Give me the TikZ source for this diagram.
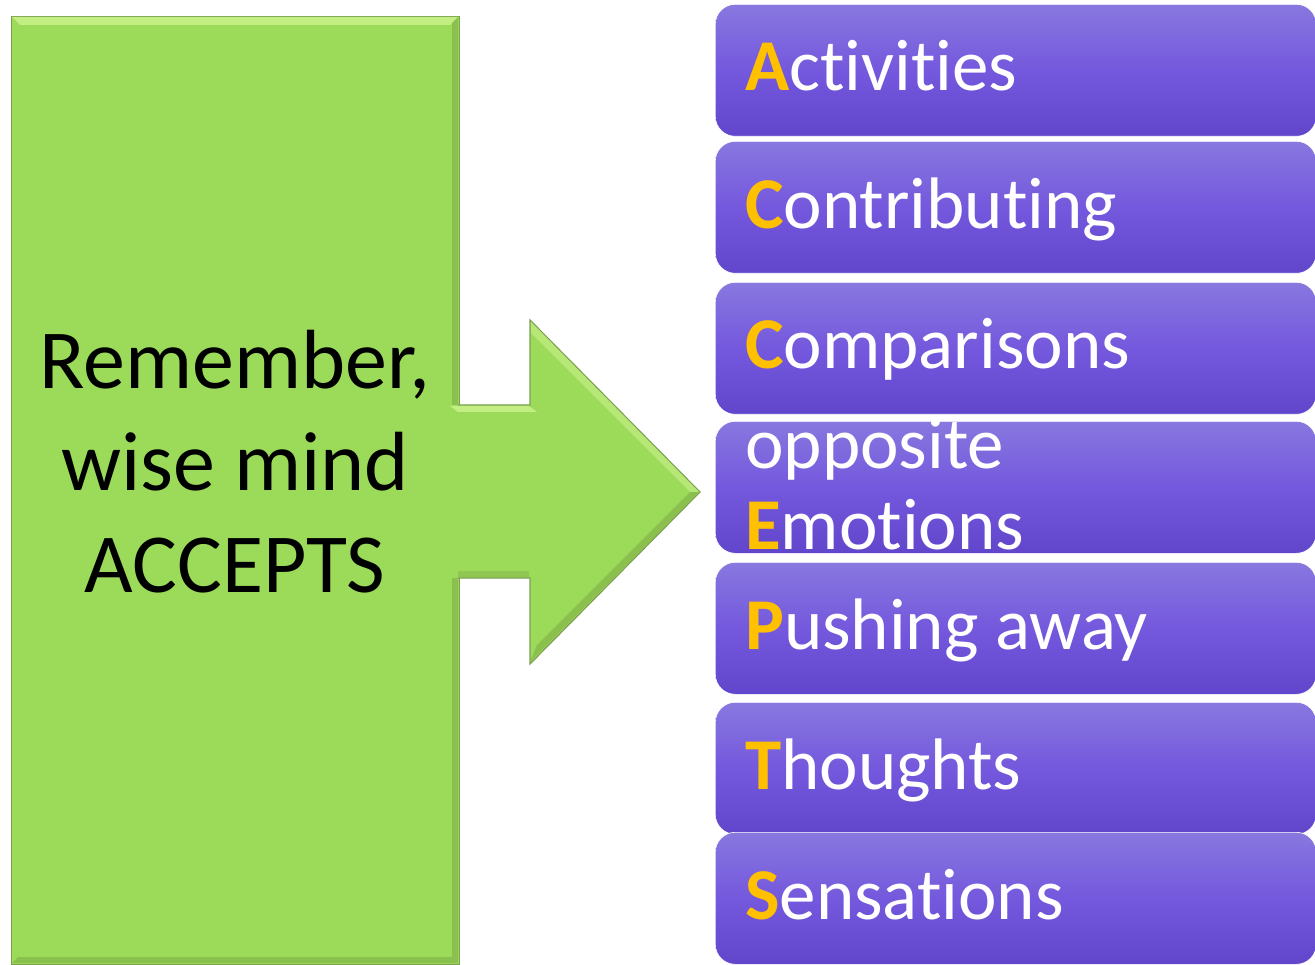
\documentclass[tikz,border=0pt]{standalone}
\usepackage{fontspec}
\setmainfont{Carlito}[Ligatures={NoCommon}]
\definecolor{leaf}{HTML}{9CDB5A}
\definecolor{leaflight}{HTML}{C2EE84}
\definecolor{leafdark}{HTML}{7DAA45}
\definecolor{violettop}{HTML}{8878DF}
\definecolor{violetmid}{HTML}{7458DD}
\definecolor{violetbot}{HTML}{6146CC}
\definecolor{gold}{HTML}{FFC000}
\newcommand{\initial}[1]{\textcolor{gold}{\bfseries #1}}
\tikzset{
  itembox/.style={rectangle, rounded corners=20pt, minimum width=601pt,
    minimum height=132pt, anchor=north west, inner sep=0pt,
    top color=violettop, bottom color=violetbot, middle color=violetmid,
    draw=white, line width=0.6pt},
  itemtext/.style={anchor=base west, inner sep=0pt, text=white,
    font=\fontsize{73}{81}\selectfont, align=left},
  panel/.style={rectangle, anchor=north west, inner sep=0pt, fill=leaf,
    draw=leafdark!80!gray, line width=1.2pt},
}
\begin{document}
\begin{tikzpicture}[x=1pt,y=-1pt]
  \useasboundingbox[fill=white] (0,0) rectangle (1315,965);

  % green panel with bevelled edges
  \node[panel, minimum width=448pt, minimum height=948pt] (panel) at (11,16) {};
  \fill[leaflight] (12,17) -- (458,17) -- (450,25) -- (20,25) -- cycle;
  \fill[leafdark!55!leaf] (458,17) -- (458,963) -- (452,957) -- (452,23) -- cycle;
  \fill[leafdark!55!leaf] (12,963) -- (458,963) -- (452,957) -- (18,957) -- cycle;

  % arrow pointing at the list (its stem runs into the panel)
  \fill[leaf] (450,405) -- (530,405) -- (530,320) -- (700,492) -- (530,664)
    -- (530,578) -- (450,578) -- cycle;
  \draw[leafdark!80!gray, line width=1.2pt, line join=miter]
    (458,405) -- (530,405) -- (530,320) -- (700,492) -- (530,664)
    -- (530,578) -- (458,578);
  \fill[leaflight] (450,406) -- (529,406) -- (537,412) -- (458,412) -- cycle;
  \fill[leaflight!70!leaf] (531,322) -- (531,333) -- (690,492) -- (699,492) -- cycle;
  \fill[leafdark!55!leaf] (530,662) -- (699,492) -- (690,492) -- (537,645) -- cycle;
  \fill[leafdark!40!leaf] (458,577) -- (529,577) -- (529,571) -- (458,571) -- cycle;

  \node[anchor=base, align=center, inner sep=0pt,
        font=\fontsize{84}{102}\selectfont] (motto) at (235,592)
    {Remember,\\wise mind\\ACCEPTS};

  % the seven list entries
  \node[itembox] (b1) at (715,4) {};
  \node[itembox] (b2) at (715,141) {};
  \node[itembox] (b3) at (715,282) {};
  \node[itembox] (b4) at (715,421) {};
  \node[itembox] (b5) at (715,562) {};
  \node[itembox] (b6) at (715,702) {};
  \node[itembox] (b7) at (715,832) {};

  \node[itemtext] (l1) at (745,91)  {\initial{A}ctivities};
  \node[itemtext] (l2) at (745,229) {\initial{C}ontributing};
  \node[itemtext] (l3) at (745,369) {\initial{C}omparisons};
  \node[itemtext] (l4) at (745,549) {opposite\\\initial{E}motions};
  \node[itemtext] (l5) at (745,649) {\initial{P}ushing away};
  \node[itemtext] (l6) at (745,789) {\initial{T}houghts};
  \node[itemtext] (l7) at (745,919) {\initial{S}ensations};
\end{tikzpicture}
\end{document}
